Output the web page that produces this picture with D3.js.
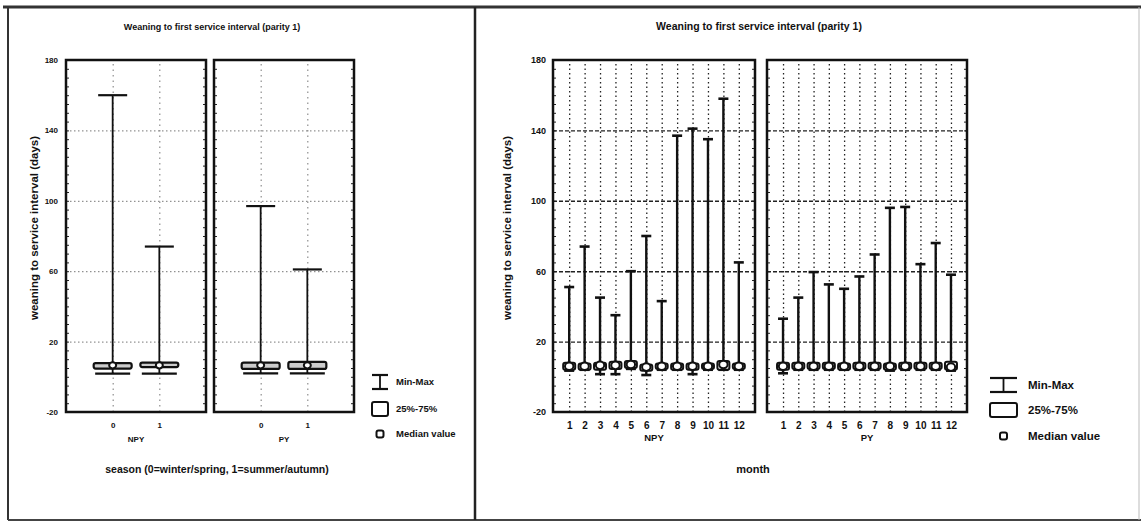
<!DOCTYPE html>
<meta charset="utf-8">
<script src="https://cdn.jsdelivr.net/npm/d3@7/dist/d3.min.js"></script>
<style>
  body { margin: 0; background: #fff; }
  text { font-family: "Liberation Sans", Arial, sans-serif; font-weight: bold; fill: #111; }
  .narrow { font-family: "Liberation Sans Narrow", "Liberation Sans", Arial, sans-serif; }
</style>
<body>
<script>

// ---- data ----
var yTicks = [180, 140, 100, 60, 20, -20]
var groups = ["NPY", "PY"]

var seasons = ["0", "1"]
var seasonNPYMin = [1.8, 1.8]
var seasonNPYQ1  = [4.7, 5.5]
var seasonNPYMed = [6.5, 6.5]
var seasonNPYQ3  = [7.8, 8]
var seasonNPYMax = [160, 74]
var seasonPYMin  = [2, 2]
var seasonPYQ1   = [4.5, 4.5]
var seasonPYMed  = [6.5, 6.5]
var seasonPYQ3   = [8, 8.5]
var seasonPYMax  = [97, 61]

var months = ["1","2","3","4","5","6","7","8","9","10","11","12"]
var monthNPYMin = [3.5, 4, 1.5, 1.5, 4.5, 1, 4, 4, 1.5, 4, 4, 4]
var monthNPYQ1  = [4, 4, 4, 4.5, 5, 3.5, 4.5, 4, 4, 4.5, 4, 4.5]
var monthNPYMed = [6, 6, 6.5, 6.5, 7, 5.5, 6, 6, 6, 6, 7, 6]
var monthNPYQ3  = [8, 7.5, 8, 8.5, 9, 7, 7.5, 7.5, 7.5, 7.5, 9, 7.5]
var monthNPYMax = [51, 74, 45, 35, 60, 80, 43, 137, 141, 135, 158, 65]
var monthPYMin  = [2, 4, 4, 4, 4, 4, 4, 3.5, 4, 4, 4, 3.5]
var monthPYQ1   = [4, 4.5, 4.5, 4.5, 4, 4.5, 4.5, 4, 4.5, 4.5, 4.5, 4]
var monthPYMed  = [6, 6, 6, 6, 6, 6, 6, 6, 6, 6, 6, 5.5]
var monthPYQ3   = [8, 8, 8, 8, 7.5, 8, 8, 7.5, 8, 8, 8, 8.5]
var monthPYMax  = [33, 45, 59.5, 52.5, 50, 57, 69.5, 96, 96.5, 64, 76, 58]

var legendLabels = ["Min-Max", "25%-75%", "Median value"]

function rows(cats, mn, q1, md, q3, mx) {
  return cats.map(function(c, i) { return {cat: c, min: mn[i], q1: q1[i], med: md[i], q3: q3[i], max: mx[i]} })
}

var svg = d3.select("body").append("svg").attr("width", 1141).attr("height", 522)

// scanned page borders
svg.append("line").attr("x1", 3).attr("x2", 1141).attr("y1", 7).attr("y2", 7).attr("stroke", "#333").attr("stroke-width", 3)
svg.append("line").attr("x1", 8).attr("x2", 8).attr("y1", 7).attr("y2", 520).attr("stroke", "#333").attr("stroke-width", 2)
svg.append("line").attr("x1", 8).attr("x2", 1141).attr("y1", 520).attr("y2", 520).attr("stroke", "#444").attr("stroke-width", 2)
svg.append("line").attr("x1", 475).attr("x2", 475).attr("y1", 7).attr("y2", 520).attr("stroke", "#222").attr("stroke-width", 2.5)
svg.append("line").attr("x1", 1139).attr("x2", 1139).attr("y1", 7).attr("y2", 520).attr("stroke", "#bbb").attr("stroke-width", 1)

var y = d3.scaleLinear().domain([-20, 180]).range([412, 60])
var plainNum = function(d) { return String(d) }

function frame(g, x0, x1, cats, data, o) {
  var x = d3.scalePoint().domain(cats).range([x0, x1]).padding(o.pad)
  var w = x1 - x0
  var p = g.append("g")

  // grid
  p.append("g").attr("transform", "translate(" + x0 + ",0)")
    .call(d3.axisLeft(y).tickValues([140, 100, 60, 20]).tickSize(-w).tickFormat(""))
    .call(function(s) { s.select(".domain").remove() })
    .selectAll("line").attr("stroke", o.gridColor).attr("stroke-width", o.hGridW).attr("stroke-dasharray", o.hDash)
  p.append("g").attr("transform", "translate(0,412)")
    .call(d3.axisBottom(x).tickSize(-352).tickFormat(""))
    .call(function(s) { s.select(".domain").remove() })
    .selectAll("line").attr("stroke", o.gridColor).attr("stroke-width", o.vGridW).attr("stroke-dasharray", o.vDash)

  // minor frame ticks
  var minor = d3.range(-20, 181, 5)
  p.append("g").attr("transform", "translate(" + x0 + ",0)")
    .call(d3.axisRight(y).tickValues(minor).tickSize(3).tickFormat(""))
    .call(function(s) { s.select(".domain").remove() })
    .selectAll("line").attr("stroke", "#222")
  p.append("g").attr("transform", "translate(" + x1 + ",0)")
    .call(d3.axisLeft(y).tickValues(minor).tickSize(3).tickFormat(""))
    .call(function(s) { s.select(".domain").remove() })
    .selectAll("line").attr("stroke", "#222")

  // whiskers
  var b = p.selectAll(".bx").data(data).enter().append("g")
  b.append("line").attr("x1", function(d) { return x(d.cat) }).attr("x2", function(d) { return x(d.cat) })
    .attr("y1", function(d) { return y(d.max) }).attr("y2", function(d) { return y(d.min) })
    .attr("stroke", "#111").attr("stroke-width", o.whiskW)
  b.append("line").attr("x1", function(d) { return x(d.cat) - o.capTop / 2 }).attr("x2", function(d) { return x(d.cat) + o.capTop / 2 })
    .attr("y1", function(d) { return y(d.max) }).attr("y2", function(d) { return y(d.max) })
    .attr("stroke", "#111").attr("stroke-width", o.capW)
  b.append("line").attr("x1", function(d) { return x(d.cat) - o.capBot / 2 }).attr("x2", function(d) { return x(d.cat) + o.capBot / 2 })
    .attr("y1", function(d) { return y(d.min) }).attr("y2", function(d) { return y(d.min) })
    .attr("stroke", "#111").attr("stroke-width", o.capW)
  b.append("rect").attr("x", function(d) { return x(d.cat) - o.boxW / 2 }).attr("width", o.boxW)
    .attr("y", function(d) { return y(d.q3) }).attr("height", function(d) { return y(d.q1) - y(d.q3) })
    .attr("rx", 2).attr("fill", o.boxFill).attr("stroke", "#111").attr("stroke-width", o.boxStroke)
  b.append("ellipse").attr("cx", function(d) { return x(d.cat) }).attr("cy", function(d) { return y(d.med) })
    .attr("rx", o.medR).attr("ry", o.medR * 0.9).attr("fill", "#fff").attr("stroke", "#111").attr("stroke-width", 2)

  // frame
  p.append("rect").attr("x", x0).attr("y", 60).attr("width", w).attr("height", 352)
    .attr("fill", "none").attr("stroke", "#111").attr("stroke-width", 2.5)

  // x tick labels
  p.append("g").attr("transform", "translate(0,412)")
    .call(d3.axisBottom(x).tickSize(0).tickPadding(o.tickPad))
    .call(function(s) { s.select(".domain").remove() })
    .selectAll("text").attr("class", o.cls).style("font-size", o.tickFs + "px").attr("fill", "#111")
    .style("font-family", null)
  p.append("text").attr("class", o.cls).attr("x", (x0 + x1) / 2).attr("y", o.groupY).attr("text-anchor", "middle")
    .style("font-size", o.groupFs + "px").text(o.group)
  return x
}

// ---------- left chart: season ----------
var L = svg.append("g")
var leftOpts = {pad: 1, gridColor: "#777", hGridW: 1, vGridW: 1, hDash: "1.5,2.5", vDash: "1.5,4",
  whiskW: 1.8, capW: 2.2, capTop: 29, capBot: 35, boxW: 38, boxFill: "#ccc", boxStroke: 2.2, medR: 3.5,
  cls: "narrow", tickPad: 10, tickFs: 8, groupY: 442, groupFs: 8}
frame(L, 66, 206, seasons, rows(seasons, seasonNPYMin, seasonNPYQ1, seasonNPYMed, seasonNPYQ3, seasonNPYMax), Object.assign({group: groups[0]}, leftOpts))
frame(L, 214, 354, seasons, rows(seasons, seasonPYMin, seasonPYQ1, seasonPYMed, seasonPYQ3, seasonPYMax), Object.assign({group: groups[1]}, leftOpts))

L.append("g").attr("transform", "translate(60,0)")
  .call(d3.axisLeft(y).tickValues(yTicks).tickSize(0).tickPadding(2).tickFormat(plainNum))
  .call(function(s) { s.select(".domain").remove() })
  .selectAll("text").attr("class", "narrow").style("font-size", "8px").style("font-family", null).attr("fill", "#111")

L.append("text").attr("class", "narrow").attr("x", 212).attr("y", 30).attr("text-anchor", "middle")
  .style("font-size", "9px").text("Weaning to first service interval (parity 1)")
L.append("text").attr("transform", "translate(38,228) rotate(-90)").attr("text-anchor", "middle")
  .style("font-size", "11.5px").text("weaning to service interval (days)")
L.append("text").attr("class", "narrow").attr("x", 217).attr("y", 473).attr("text-anchor", "middle")
  .style("font-size", "10.5px").text("season (0=winter/spring, 1=summer/autumn)")

// ---------- right chart: month ----------
var R = svg.append("g")
var rightOpts = {pad: 1.05, gridColor: "#222", hGridW: 1.4, vGridW: 1.3, hDash: "4,2", vDash: "1.5,3",
  whiskW: 2.4, capW: 2.6, capTop: 10, capBot: 10, boxW: 12, boxFill: "#fff", boxStroke: 2, medR: 4.2,
  cls: "", tickPad: 10, tickFs: 10, groupY: 441, groupFs: 9.5}
frame(R, 553, 755, months, rows(months, monthNPYMin, monthNPYQ1, monthNPYMed, monthNPYQ3, monthNPYMax), Object.assign({group: groups[0]}, rightOpts))
frame(R, 767, 967, months, rows(months, monthPYMin, monthPYQ1, monthPYMed, monthPYQ3, monthPYMax), Object.assign({group: groups[1]}, rightOpts))

R.append("g").attr("transform", "translate(548,0)")
  .call(d3.axisLeft(y).tickValues(yTicks).tickSize(0).tickPadding(2).tickFormat(plainNum))
  .call(function(s) { s.select(".domain").remove() })
  .selectAll("text").style("font-size", "9px").style("font-family", null).attr("fill", "#111")

R.append("text").attr("x", 759).attr("y", 30).attr("text-anchor", "middle")
  .style("font-size", "10.5px").text("Weaning to first service interval (parity 1)")
R.append("text").attr("transform", "translate(511,228) rotate(-90)").attr("text-anchor", "middle")
  .style("font-size", "11.5px").text("weaning to service interval (days)")
R.append("text").attr("x", 753).attr("y", 473).attr("text-anchor", "middle")
  .style("font-size", "11px").text("month")

// ---------- legends ----------
function legend(g, ix, iw, tx, ys, fs, cls) {
  var cx = ix + iw / 2
  g.append("line").attr("x1", ix).attr("x2", ix + iw).attr("y1", ys[0] - 7).attr("y2", ys[0] - 7).attr("stroke", "#111").attr("stroke-width", 2.2)
  g.append("line").attr("x1", ix).attr("x2", ix + iw).attr("y1", ys[0] + 7).attr("y2", ys[0] + 7).attr("stroke", "#111").attr("stroke-width", 2.2)
  g.append("line").attr("x1", cx).attr("x2", cx).attr("y1", ys[0] - 7).attr("y2", ys[0] + 7).attr("stroke", "#111").attr("stroke-width", 1.8)
  g.append("rect").attr("x", ix).attr("y", ys[1] - 7).attr("width", iw).attr("height", 14).attr("rx", 2)
    .attr("fill", "#fff").attr("stroke", "#111").attr("stroke-width", 2)
  g.append("rect").attr("x", cx - 3.5).attr("y", ys[2] - 3.5).attr("width", 7).attr("height", 7).attr("rx", 2)
    .attr("fill", "#fff").attr("stroke", "#111").attr("stroke-width", 2)
  g.selectAll(".lg").data(legendLabels).enter().append("text").attr("class", cls)
    .attr("x", tx).attr("y", function(d, i) { return ys[i] }).attr("dy", "0.35em")
    .style("font-size", fs + "px").text(function(d) { return d })
}
legend(L, 372, 16, 396, [382, 409, 434], 9.5, "narrow")
legend(R, 990, 27, 1028, [385, 410, 436], 11.5, "")

</script>
</body>
